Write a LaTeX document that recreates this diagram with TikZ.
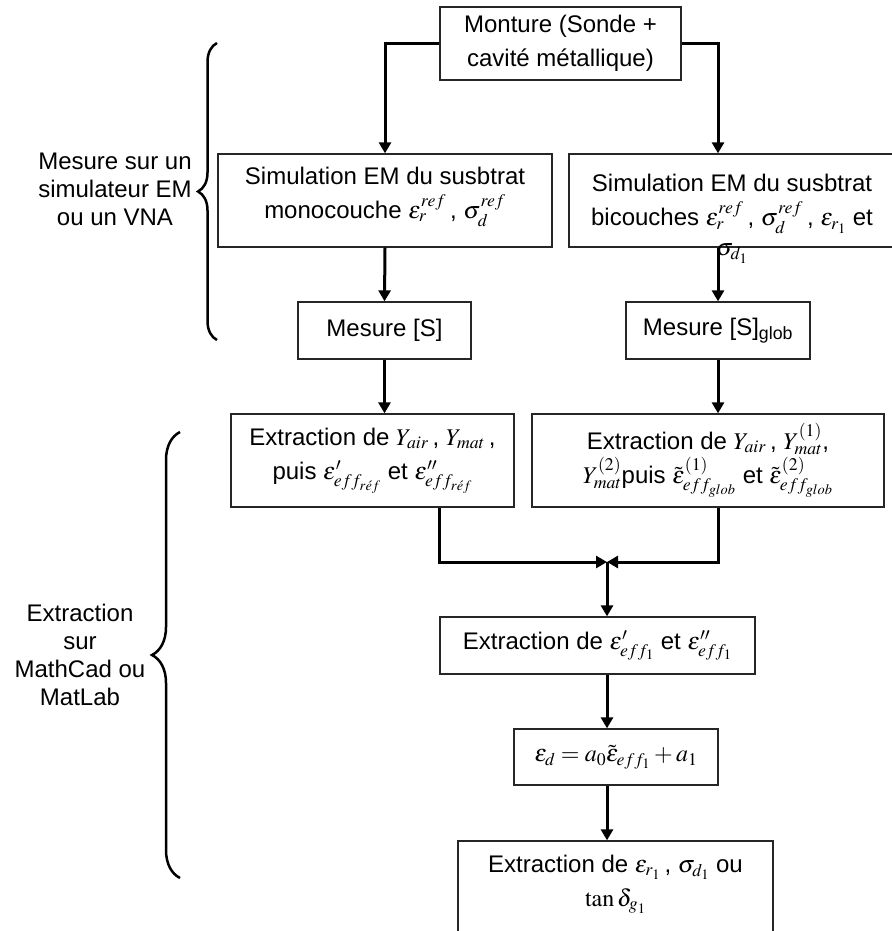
\documentclass[tikz,border=0pt]{standalone}
\usepackage{mathptmx}
\usepackage[no-math]{fontspec}
\setmainfont{Liberation Sans}
\usetikzlibrary{arrows.meta,decorations.pathreplacing,positioning}

\begin{document}
\begin{tikzpicture}[
    x=1pt, y=-1pt,
    font=\fontsize{24}{28}\selectfont,
    % Blocs du schéma
    bloc/.style={
        draw=black!85, line width=1.3pt, fill=white,
        align=center, inner sep=0pt,
        font=\fontsize{24}{34}\selectfont
    },
    % Texte libre dans un bloc
    texte/.style={align=center, inner sep=0pt, font=\fontsize{24}{34}\selectfont},
    % Liaisons
    fleche/.style={draw, line width=3pt, -{Triangle[length=11pt,width=12pt]}},
    % Accolades de regroupement
    accolade/.style={draw, line width=2.5pt, decorate,
        decoration={brace, amplitude=#1}},
    legende/.style={align=center}
]
\useasboundingbox (0,0) rectangle (891,931);

% ---- MONTURE ----
\node[bloc, minimum width=241pt, minimum height=73pt] (monture) at (560.5,43.5)
    {Monture (Sonde +\\cavité métallique)};

% ---- SIMULATIONS ----
\node[bloc, minimum width=334pt, minimum height=93pt] (simA) at (385,200.5) {};
\node[texte] (simAtxt) at (385,197)
    {Simulation EM du susbtrat\\monocouche $\varepsilon_{r}^{ref}$\,, $\sigma_{d}^{ref}$};
\node[bloc, minimum width=331pt, minimum height=93pt] (simB) at (734.5,200.5) {};
\node[texte] (simBtxt) at (732,219)
    {Simulation EM du susbtrat\\bicouches $\varepsilon_{r}^{ref}$\,, $\sigma_{d}^{ref}$\,, $\varepsilon_{r_1}$ et\\[-4pt]$\sigma_{d_1}$};

\coordinate (colB) at (718,0);
\draw[fleche] (monture.west) -| (simA.north);
\draw[fleche] (monture.east) -| (simB.north -| colB);

% ---- MESURES ----
\node[bloc, minimum width=173pt, minimum height=57pt] (mesA) at (384.5,330.5) {Mesure [S]};
\node[bloc, minimum width=184pt, minimum height=57pt] (mesB) at (718,330.5)
    {Mesure [S]\textsubscript{glob}};

\draw[fleche] (simA.south) -- (mesA.north);
\draw[fleche] (simB.south -| colB) -- (mesB.north);

% ---- EXTRACTIONS ----
\node[bloc, minimum width=283pt, minimum height=93pt] (extA) at (372.5,460.5)
    {Extraction de $Y_{air}$\,, $Y_{mat}$\,,\\puis $\varepsilon^{\prime}_{eff_{r\acute{e}f}}$ et $\varepsilon^{\prime\prime}_{eff_{r\acute{e}f}}$};
\node[bloc, minimum width=352pt, minimum height=93pt] (extB) at (708,460.5)
    {Extraction de $Y_{air}$\,, $Y_{mat}^{(1)}$,\\$Y_{mat}^{(2)}$puis $\tilde{\varepsilon}^{(1)}_{eff_{glob}}$ et $\tilde{\varepsilon}^{(2)}_{eff_{glob}}$};

\draw[fleche] (mesA.south) -- (mesA.south |- extA.north);
\draw[fleche] (mesB.south) -- (mesB.south |- extB.north);

% ---- FUSION ----
\node[bloc, minimum width=315pt, minimum height=57pt] (epsp) at (597.5,645.5)
    {Extraction de $\varepsilon^{\prime}_{eff_1}$ et $\varepsilon^{\prime\prime}_{eff_1}$};

\coordinate (jonction) at (607,562);
\draw[fleche] (extA.south -| epsp.west) |- (jonction);
\draw[fleche] (extB.south -| colB) |- (jonction);
\draw[fleche] (jonction) -- (jonction |- epsp.north);

% ---- LOI DE MÉLANGE ----
\node[bloc, minimum width=204pt, minimum height=56pt] (epsd) at (616,757)
    {$\varepsilon_{d} = a_{0}\tilde{\varepsilon}_{eff_1} + a_{1}$};
\draw[fleche] (epsp.south -| jonction) -- (epsd.north -| jonction);

% ---- RÉSULTAT ----
\node[bloc, minimum width=315pt, minimum height=100pt] (final) at (615.5,891) {};
\node[texte] (finaltxt) at (615.5,884)
    {Extraction de $\varepsilon_{r_1}$\,, $\sigma_{d_1}$ ou\\$\tan\delta_{g_1}$};
\draw[fleche] (epsd.south -| jonction) -- (final.north -| jonction);

% ---- ACCOLADES ----
\draw[accolade=19pt] (217,340) -- (217,43);
\node[legende] (lblMesure) at (115,189) {Mesure sur un\\simulateur EM\\ou un VNA};

\draw[accolade=28pt] (180,878) -- (180,432);
\node[legende] (lblExtr) at (80,655) {Extraction\\sur\\MathCad ou\\MatLab};

\end{tikzpicture}
\end{document}
